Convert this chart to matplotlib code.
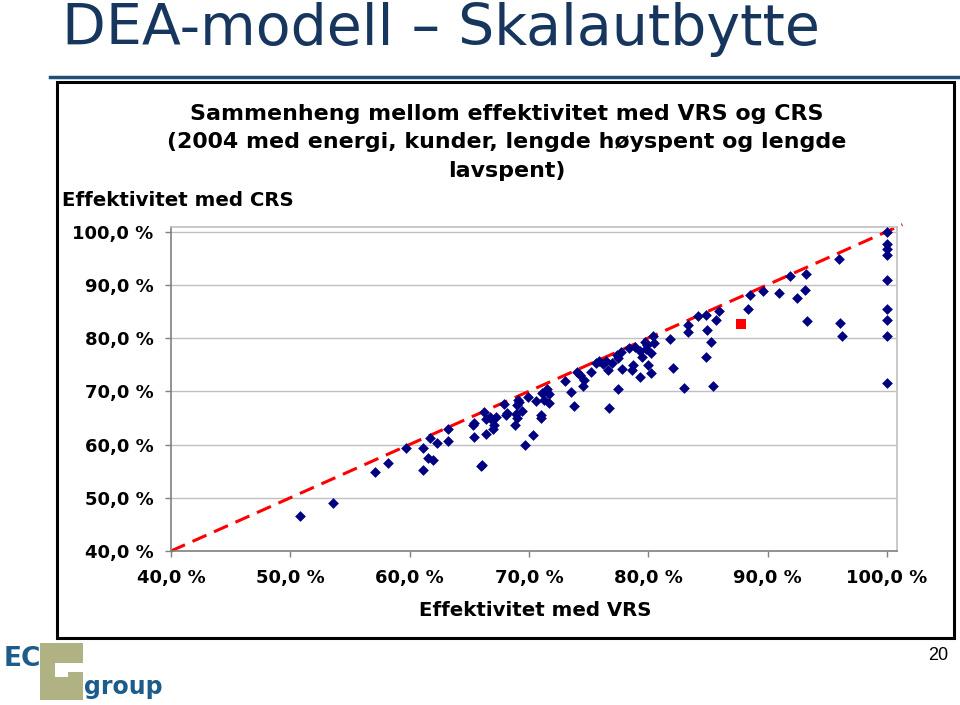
import matplotlib
matplotlib.use("Agg")
import matplotlib.pyplot as plt
from matplotlib.patches import Rectangle
from matplotlib.lines import Line2D

# ---------------- data ----------------
vrs = [50.8, 53.6, 57.1, 58.2, 59.7, 61.1, 61.1, 61.5, 61.7, 62.0, 62.3, 63.2, 63.2,
       65.4, 65.3, 65.4, 66.2, 66.4, 66.7, 66.9, 67.2, 67.0, 67.1, 66.4, 66.0, 66.1,
       67.9, 68.1, 68.2, 68.9, 69.0, 68.8, 69.0, 69.1, 69.2, 69.4, 69.9, 70.3, 69.7,
       70.6, 71.0, 71.0, 71.1, 71.3, 71.5, 71.7, 71.7,
       73.0, 73.5, 73.8, 74.0, 74.3, 74.5, 74.6, 75.2, 75.6, 75.9, 76.2, 76.5, 76.6,
       76.7, 77.0, 77.5, 77.4, 77.5, 77.7, 77.8, 78.4, 78.6, 78.7, 78.9, 79.3, 79.3,
       79.5, 79.7, 79.8, 79.9, 80.0, 80.2, 80.2, 80.4, 80.5,
       81.8, 82.1, 83.0, 83.3, 83.3, 84.2, 84.8, 84.9, 84.8, 85.3, 85.4, 85.7, 85.9,
       88.4, 88.5, 89.6, 91.0, 91.9, 92.5, 93.1, 93.2, 93.3, 96.0, 96.1, 96.2,
       100.0, 100.0, 100.0, 100.0, 100.0, 100.0, 100.0, 100.0, 100.0]
crs = [46.6, 49.0, 54.8, 56.6, 59.4, 55.2, 59.3, 57.5, 61.2, 57.0, 60.3, 62.9, 60.7,
       64.0, 63.6, 61.4, 66.1, 64.8, 65.2, 64.6, 65.1, 63.0, 63.6, 62.0, 55.9, 56.1,
       67.6, 65.6, 65.9, 65.8, 65.0, 63.6, 67.4, 68.4, 67.9, 66.3, 69.0, 61.8, 60.0,
       68.1, 65.6, 65.0, 69.6, 68.4, 70.4, 69.5, 67.8,
       72.0, 69.9, 67.3, 73.7, 73.1, 71.0, 72.1, 73.7, 75.3, 75.6, 75.1, 75.6, 73.9,
       66.9, 75.3, 70.4, 76.8, 76.2, 77.3, 74.2, 78.1, 73.9, 75.0, 78.4, 72.6, 77.5,
       76.4, 79.3, 78.0, 78.7, 75.0, 77.2, 73.5, 80.3, 79.0,
       79.8, 74.3, 70.6, 82.4, 81.1, 84.2, 84.3, 81.5, 76.5, 79.2, 71.0, 83.3, 85.1,
       85.4, 88.0, 88.9, 88.4, 91.7, 87.5, 89.1, 92.0, 83.2, 94.9, 82.9, 80.4,
       100.0, 97.6, 96.8, 95.5, 90.9, 85.5, 83.3, 80.4, 71.6]
highlight_vrs = [87.8]
highlight_crs = [82.7]
ref_line = [40.0, 101.3]
ticks = [40, 50, 60, 70, 80, 90, 100]
tick_labels = ["40,0 %", "50,0 %", "60,0 %", "70,0 %", "80,0 %", "90,0 %", "100,0 %"]

W, H = 960, 705
fig = plt.figure(figsize=(W / 100, H / 100), dpi=100)
fig.patch.set_facecolor("white")


def fx(px):
    return px / W


def fy(py):
    return 1 - py / H


# slide title
fig.text(fx(62), fy(45), "DEA-modell – Skalautbytte", fontsize=41,
         family="Liberation Sans Narrow", color="#17365D", va="baseline", ha="left")
# blue rule
fig.add_artist(Line2D([fx(50), fx(958)], [fy(76.5), fy(76.5)], color="#1F4E79", lw=2.5))
# black frame
fig.add_artist(Rectangle((fx(57), fy(638)), fx(954) - fx(57), fy(82) - fy(638),
                         fill=False, edgecolor="black", lw=2.2))

# axes
ax = fig.add_axes([fx(171), fy(551), fx(897) - fx(171), fy(227) - fy(551)])
ax.set_xlim(40, 100.85)
ax.set_ylim(40, 100.85)
ax.set_xticks(ticks)
ax.set_yticks(ticks)
ax.set_xticklabels(tick_labels)
ax.set_yticklabels(tick_labels)
for lab in ax.get_xticklabels() + ax.get_yticklabels():
    lab.set_fontweight("bold")
    lab.set_fontsize(13)
    lab.set_family("DejaVu Sans")
ax.tick_params(axis="x", length=4, width=1, color="#808080", pad=9)
ax.tick_params(axis="y", length=4, width=1, color="#808080", pad=8.5)
ax.grid(axis="y", color="#C0C0C0", lw=1)
ax.set_axisbelow(True)
for s in ["left", "bottom"]:
    ax.spines[s].set_color("#808080")
    ax.spines[s].set_linewidth(1.2)
for s in ["top", "right"]:
    ax.spines[s].set_color("#C0C0C0")
    ax.spines[s].set_linewidth(1.2)

ax.plot(ref_line, ref_line, color="#FF0000", lw=2.2, dashes=(5, 2.7), clip_on=False, zorder=2)
ax.scatter(vrs, crs, marker="D", s=30, color="#000080", zorder=3, clip_on=False, linewidths=0)
ax.scatter(highlight_vrs, highlight_crs, marker="s", s=55, color="#FF0000", zorder=4, linewidths=0)

# chart title
title_lines = ["Sammenheng mellom effektivitet med VRS og CRS",
               "(2004 med energi, kunder, lengde høyspent og lengde",
               "lavspent)"]
for i, t in enumerate(title_lines):
    fig.text(fx(507), fy(114 + i * 28.5), t, fontsize=15.9, fontweight="bold",
             family="DejaVu Sans", ha="center", va="center")

fig.text(fx(62), fy(200), "Effektivitet med CRS", fontsize=14.2, fontweight="bold",
         family="DejaVu Sans", ha="left", va="center")
fig.text(fx(535), fy(610), "Effektivitet med VRS", fontsize=14.2, fontweight="bold",
         family="DejaVu Sans", ha="center", va="center")

# page number
fig.text(fx(938), fy(655), "20", fontsize=13, family="Liberation Sans", ha="center", va="center")

# logo (approximation)
khaki = "#B0B283"
fig.add_artist(Rectangle((fx(40), fy(700)), fx(83) - fx(40), fy(643) - fy(700),
                         facecolor=khaki, edgecolor="none"))
fig.add_artist(Rectangle((fx(55), fy(672)), fx(84) - fx(55), fy(663) - fy(672),
                         facecolor="white", edgecolor="none"))
fig.add_artist(Rectangle((fx(55), fy(677)), fx(68) - fx(55), fy(672) - fy(677),
                         facecolor="white", edgecolor="none"))
fig.text(fx(4), fy(666), "EC", fontsize=19, fontweight="bold", family="Liberation Sans Narrow",
         color="#1B5C8A", ha="left", va="baseline")
fig.text(fx(84), fy(694), "group", fontsize=17, fontweight="bold", family="Liberation Sans Narrow",
         color="#1B5C8A", ha="left", va="baseline")

fig.savefig("out.png", dpi=100, facecolor="white")
